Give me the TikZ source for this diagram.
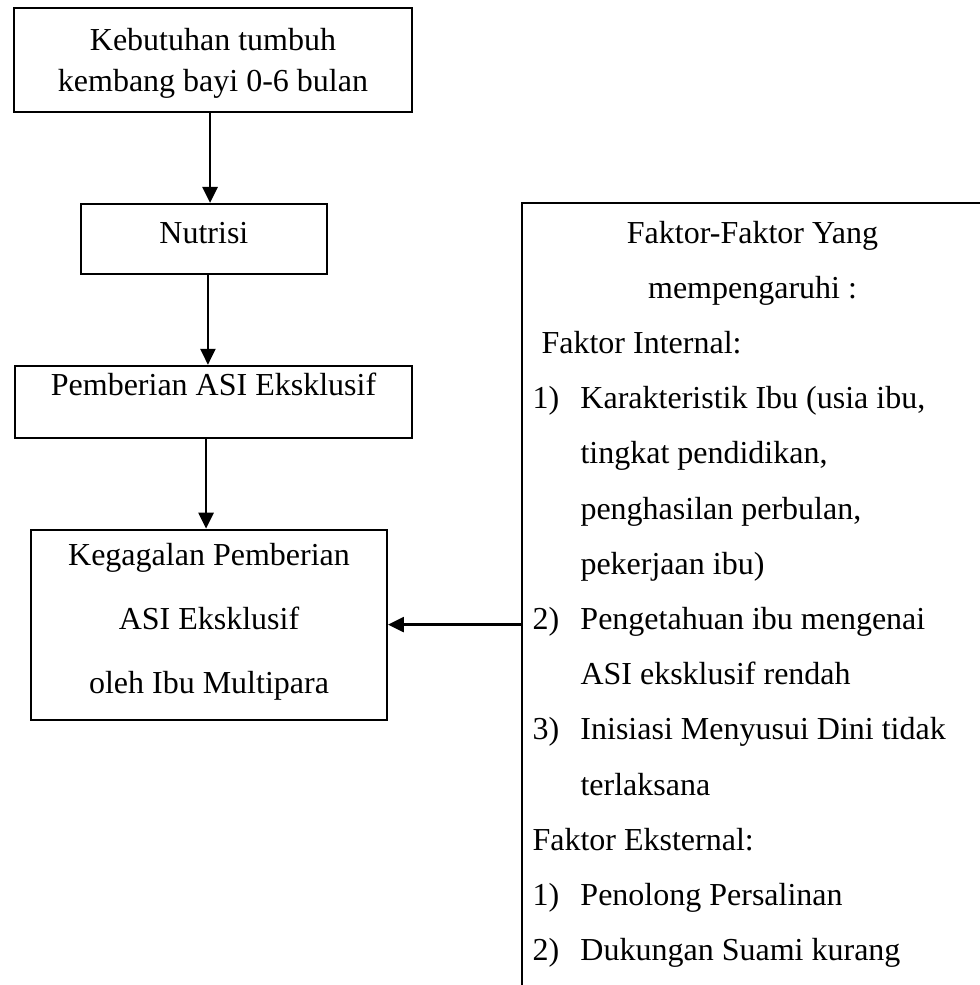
\documentclass[tikz,border=0pt]{standalone}
\usepackage{fontspec}
\setmainfont{Liberation Serif}
\usetikzlibrary{arrows.meta,positioning}
\tikzset{
  box/.style={draw, line width=0.7pt, align=center, inner sep=0pt},
  flow/.style={box, font=\fontsize{12}{15.4}\selectfont},
  arrow/.style={-{Triangle[length=6pt,width=5.6pt]}, line width=1pt},
}
\newcommand{\numitem}[1]{\makebox[18pt][l]{#1}}
\newcommand{\hangline}{\hspace*{18pt}}

\begin{document}
\begin{tikzpicture}[x=0.375pt, y=-0.375pt, node distance=33.75pt]
  \useasboundingbox (0,0) rectangle (980,985);

  \node[flow, minimum width=149.25pt, minimum height=39pt, text depth=0pt] (tumbuh) at (213,60) {Kebutuhan tumbuh\\kembang bayi 0-6 bulan};
  \node[flow, below=of tumbuh, xshift=-3.4pt, minimum width=92.25pt, minimum height=26.25pt, text height=8.2pt, text depth=4.4pt] (nutrisi) {Nutrisi};
  \node[flow, below=of nutrisi, xshift=3.6pt, minimum width=148.9pt, minimum height=27pt, text height=8.2pt, text depth=12.7pt] (asi) {Pemberian ASI Eksklusif};
  \node[flow, below=of asi, xshift=-1.7pt, minimum width=133.5pt, minimum height=71.25pt, font=\fontsize{12}{24}\selectfont, text depth=5pt] (gagal) {Kegagalan Pemberian\\ASI Eksklusif\\oleh Ibu Multipara};

  % kotak faktor (terpotong di kanan dan bawah)
  \node[box, anchor=north west, minimum width=187.5pt, minimum height=307.5pt] (faktor) at (521,202) {};
  \node[anchor=base west, text width=165pt, align=flush left, inner sep=0pt, font=\fontsize{12}{20.7}\selectfont] (faktorisi) at (532,243) {%
    {\centering Faktor-Faktor Yang\\mempengaruhi :\par}
    \hspace*{3.4pt}Faktor Internal:\\
    \numitem{1)}Karakteristik Ibu (usia ibu,\\
    \hangline tingkat pendidikan,\\
    \hangline penghasilan perbulan,\\
    \hangline pekerjaan ibu)\\
    \numitem{2)}Pengetahuan ibu mengenai\\
    \hangline ASI eksklusif rendah\\
    \numitem{3)}Inisiasi Menyusui Dini tidak\\
    \hangline terlaksana\\
    Faktor Eksternal:\\
    \numitem{1)}Penolong Persalinan\\
    \numitem{2)}Dukungan Suami kurang};

  \draw[arrow] ([xshift=-1.1pt]tumbuh.south) -- ([xshift=-1.1pt]tumbuh.south |- nutrisi.north);
  \draw[arrow] ([xshift=1.5pt]nutrisi.south) -- ([xshift=1.5pt]nutrisi.south |- asi.north);
  \draw[arrow] ([xshift=-2.8pt]asi.south) -- ([xshift=-2.8pt]asi.south |- gagal.north);
  \draw[arrow] (faktor.west |- gagal.east) -- (gagal.east);
\end{tikzpicture}
\end{document}
